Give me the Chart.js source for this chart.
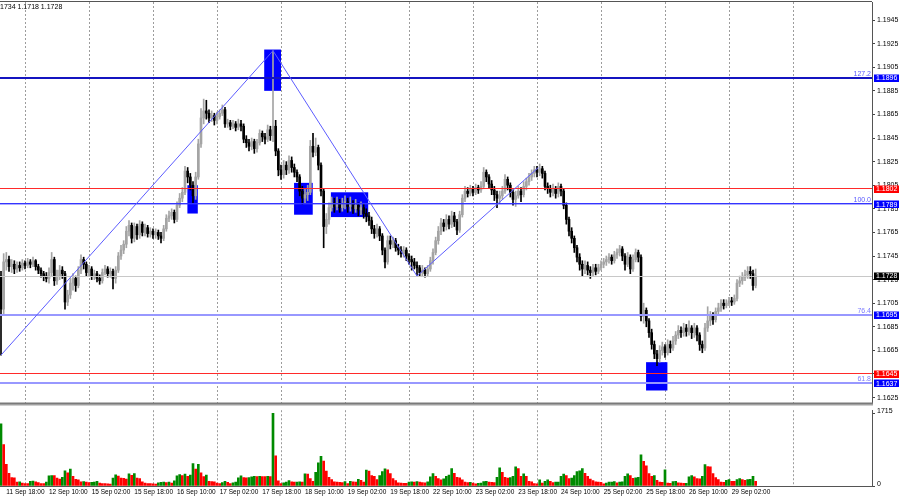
<!DOCTYPE html>
<html><head><meta charset="utf-8">
<script src="https://cdn.jsdelivr.net/npm/chart.js@4.4.1/dist/chart.umd.min.js"></script>
<style>
html,body{margin:0;padding:0;background:#fff;overflow:hidden}
#wrap{position:relative;width:900px;height:500px;background:#fff}
#cp{position:absolute;left:0;top:0}
#cv{position:absolute;left:0;top:404px}
</style></head><body>
<div id="wrap"><canvas id="cp" width="900" height="404"></canvas><canvas id="cv" width="900" height="96"></canvas></div>
<script>
// ---- EURUSD H1, bars indexed from 11 Sep 16:00 ----
const opens = [
1.1728,1.1700,1.1740,1.1742,1.1736,1.1738,1.1734,1.1737,1.1735,1.1739,
1.1737,1.1740,1.1738,1.1741,1.1736,1.1733,1.1730,1.1728,1.1726,1.1731,
1.1742,1.1724,1.1728,1.1733,1.1730,1.1706,1.1712,1.1722,1.1726,1.1720,
1.1733,1.1742,1.1738,1.1731,1.1734,1.1728,1.1730,1.1726,1.1724,1.1731,
1.1734,1.1730,1.1732,1.1726,1.1733,1.1745,1.1750,1.1755,1.1766,1.1771,
1.1760,1.1770,1.1763,1.1772,1.1765,1.1769,1.1764,1.1766,1.1763,1.1765,
1.1762,1.1760,1.1768,1.1777,1.1779,1.1782,1.1776,1.1788,1.1794,1.1799,
1.1817,1.1812,1.1805,1.1796,1.1812,1.1840,1.1862,1.1868,1.1866,1.1862,
1.1864,1.1860,1.1863,1.1866,1.1869,1.1857,1.1858,1.1855,1.1857,1.1854,
1.1857,1.1855,1.1844,1.1841,1.1838,1.1842,1.1836,1.1841,1.1849,1.1846,
1.1844,1.1852,1.1847,1.1855,1.1834,1.1818,1.1814,1.1822,1.1818,1.1826,
1.1820,1.1816,1.1812,1.1800,1.1794,1.1797,1.1799,1.1838,1.1833,1.1837,
1.1822,1.1800,1.1770,1.1776,1.1786,1.1790,1.1787,1.1790,1.1786,1.1789,
1.1791,1.1787,1.1789,1.1785,1.1788,1.1784,1.1786,1.1781,1.1779,1.1775,
1.1768,1.1764,1.1768,1.1762,1.1750,1.1740,1.1758,1.1755,1.1758,1.1752,
1.1750,1.1747,1.1750,1.1745,1.1742,1.1740,1.1737,1.1735,1.1731,1.1733,
1.1730,1.1734,1.1741,1.1748,1.1758,1.1766,1.1773,1.1770,1.1776,1.1772,
1.1779,1.1774,1.1767,1.1780,1.1794,1.1800,1.1798,1.1802,1.1799,1.1803,
1.1801,1.1804,1.1816,1.1812,1.1806,1.1801,1.1797,1.1794,1.1796,1.1800,
1.1810,1.1805,1.1799,1.1793,1.1796,1.1800,1.1797,1.1804,1.1808,1.1812,
1.1815,1.1818,1.1816,1.1819,1.1815,1.1804,1.1802,1.1799,1.1802,1.1798,
1.1804,1.1800,1.1788,1.1776,1.1766,1.1760,1.1752,1.1744,1.1738,1.1734,
1.1737,1.1733,1.1731,1.1735,1.1732,1.1735,1.1738,1.1740,1.1742,1.1744,
1.1741,1.1746,1.1748,1.1751,1.1745,1.1738,1.1744,1.1734,1.1742,1.1748,
1.1744,1.1694,1.1699,1.1690,1.1680,1.1670,1.1662,1.1658,1.1665,1.1668,
1.1663,1.1670,1.1667,1.1673,1.1678,1.1682,1.1680,1.1684,1.1681,1.1684,
1.1680,1.1684,1.1678,1.1670,1.1667,1.1684,1.1690,1.1694,1.1691,1.1698,
1.1701,1.1705,1.1703,1.1705,1.1707,1.1706,1.1709,1.1722,1.1724,1.1727,
1.1729,1.1732,1.1730,1.1720];
const highs = [
1.1732,1.1747,1.1748,1.1745,1.1742,1.1741,1.1740,1.1740,1.1742,1.1741,
1.1743,1.1742,1.1744,1.1742,1.1738,1.1735,1.1732,1.1731,1.1735,1.1748,
1.1744,1.1733,1.1737,1.1736,1.1732,1.1716,1.1726,1.1730,1.1728,1.1736,
1.1746,1.1744,1.1740,1.1737,1.1736,1.1733,1.1732,1.1729,1.1734,1.1737,
1.1736,1.1735,1.1734,1.1736,1.1748,1.1754,1.1758,1.1770,1.1775,1.1773,
1.1773,1.1772,1.1775,1.1774,1.1772,1.1771,1.1769,1.1768,1.1768,1.1767,
1.1765,1.1771,1.1780,1.1783,1.1785,1.1784,1.1791,1.1798,1.1803,1.1821,
1.1820,1.1815,1.1808,1.1816,1.1844,1.1870,1.1878,1.1877,1.1869,1.1868,
1.1866,1.1867,1.1869,1.1873,1.1871,1.1861,1.1860,1.1860,1.1859,1.1861,
1.1860,1.1857,1.1847,1.1844,1.1845,1.1844,1.1844,1.1852,1.1851,1.1849,
1.1856,1.1855,1.1919,1.1860,1.1836,1.1822,1.1826,1.1825,1.1830,1.1829,
1.1823,1.1818,1.1814,1.1804,1.1802,1.1805,1.1843,1.1849,1.1845,1.1839,
1.1824,1.1802,1.1781,1.1790,1.1795,1.1794,1.1795,1.1793,1.1794,1.1796,
1.1794,1.1795,1.1792,1.1793,1.1790,1.1791,1.1789,1.1785,1.1782,1.1778,
1.1771,1.1772,1.1770,1.1764,1.1752,1.1762,1.1762,1.1761,1.1760,1.1755,
1.1753,1.1753,1.1752,1.1747,1.1745,1.1743,1.1740,1.1737,1.1737,1.1735,
1.1737,1.1744,1.1751,1.1761,1.1770,1.1777,1.1776,1.1780,1.1779,1.1783,
1.1782,1.1776,1.1783,1.1797,1.1804,1.1803,1.1805,1.1804,1.1806,1.1805,
1.1808,1.1820,1.1818,1.1814,1.1809,1.1804,1.1800,1.1800,1.1804,1.1814,
1.1812,1.1807,1.1801,1.1800,1.1804,1.1803,1.1808,1.1811,1.1815,1.1818,
1.1821,1.1821,1.1823,1.1821,1.1817,1.1807,1.1805,1.1806,1.1804,1.1807,
1.1806,1.1802,1.1790,1.1778,1.1769,1.1762,1.1754,1.1747,1.1741,1.1741,
1.1740,1.1736,1.1738,1.1738,1.1738,1.1741,1.1743,1.1745,1.1747,1.1746,
1.1749,1.1751,1.1754,1.1753,1.1747,1.1748,1.1746,1.1746,1.1751,1.1750,
1.1746,1.1705,1.1701,1.1692,1.1683,1.1673,1.1665,1.1669,1.1672,1.1670,
1.1674,1.1673,1.1677,1.1681,1.1686,1.1685,1.1688,1.1687,1.1690,1.1686,
1.1688,1.1686,1.1680,1.1673,1.1688,1.1702,1.1698,1.1697,1.1701,1.1705,
1.1708,1.1708,1.1708,1.1710,1.1710,1.1712,1.1725,1.1728,1.1731,1.1733,
1.1736,1.1736,1.1733,1.1734];
const lows = [
1.1661,1.1696,1.1733,1.1732,1.1731,1.1730,1.1731,1.1732,1.1733,1.1734,
1.1735,1.1735,1.1736,1.1733,1.1730,1.1727,1.1724,1.1723,1.1722,1.1728,
1.1720,1.1721,1.1725,1.1726,1.1700,1.1703,1.1709,1.1716,1.1715,1.1718,
1.1730,1.1734,1.1728,1.1728,1.1725,1.1725,1.1723,1.1721,1.1722,1.1729,
1.1727,1.1727,1.1717,1.1722,1.1731,1.1742,1.1747,1.1752,1.1762,1.1756,
1.1757,1.1759,1.1760,1.1762,1.1762,1.1761,1.1761,1.1760,1.1760,1.1759,
1.1756,1.1758,1.1766,1.1774,1.1776,1.1773,1.1774,1.1786,1.1791,1.1797,
1.1807,1.1801,1.1790,1.1793,1.1810,1.1837,1.1857,1.1861,1.1858,1.1859,
1.1856,1.1857,1.1861,1.1864,1.1854,1.1854,1.1852,1.1853,1.1851,1.1852,
1.1851,1.1841,1.1837,1.1834,1.1835,1.1832,1.1833,1.1839,1.1842,1.1840,
1.1842,1.1843,1.1842,1.1830,1.1813,1.1810,1.1811,1.1814,1.1815,1.1816,
1.1812,1.1808,1.1796,1.1789,1.1790,1.1792,1.1797,1.1829,1.1830,1.1818,
1.1796,1.1752,1.1764,1.1772,1.1783,1.1782,1.1784,1.1782,1.1783,1.1785,
1.1782,1.1783,1.1781,1.1782,1.1779,1.1780,1.1777,1.1774,1.1771,1.1764,
1.1760,1.1761,1.1758,1.1746,1.1735,1.1738,1.1751,1.1752,1.1749,1.1746,
1.1744,1.1744,1.1741,1.1738,1.1733,1.1734,1.1728,1.1728,1.1728,1.1727,
1.1728,1.1732,1.1738,1.1746,1.1755,1.1763,1.1766,1.1767,1.1768,1.1769,
1.1770,1.1763,1.1765,1.1778,1.1791,1.1795,1.1796,1.1796,1.1797,1.1798,
1.1799,1.1802,1.1808,1.1802,1.1797,1.1792,1.1786,1.1790,1.1793,1.1798,
1.1801,1.1795,1.1788,1.1787,1.1794,1.1791,1.1795,1.1801,1.1805,1.1809,
1.1812,1.1812,1.1813,1.1811,1.1801,1.1798,1.1795,1.1796,1.1794,1.1795,
1.1796,1.1785,1.1772,1.1762,1.1756,1.1748,1.1740,1.1733,1.1728,1.1730,
1.1729,1.1726,1.1728,1.1729,1.1730,1.1733,1.1735,1.1737,1.1739,1.1738,
1.1739,1.1743,1.1745,1.1741,1.1733,1.1736,1.1730,1.1732,1.1740,1.1740,
1.1690,1.1688,1.1685,1.1676,1.1666,1.1658,1.1652,1.1655,1.1661,1.1659,
1.1661,1.1663,1.1665,1.1670,1.1675,1.1676,1.1677,1.1677,1.1678,1.1675,
1.1676,1.1673,1.1665,1.1663,1.1665,1.1681,1.1686,1.1687,1.1689,1.1695,
1.1698,1.1700,1.1701,1.1703,1.1703,1.1704,1.1707,1.1719,1.1721,1.1724,
1.1726,1.1726,1.1716,1.1718];
const closes = [
1.1700,1.1740,1.1742,1.1736,1.1738,1.1734,1.1737,1.1735,1.1739,1.1737,
1.1740,1.1738,1.1741,1.1736,1.1733,1.1730,1.1728,1.1726,1.1731,1.1742,
1.1724,1.1728,1.1733,1.1730,1.1706,1.1712,1.1722,1.1726,1.1720,1.1733,
1.1742,1.1738,1.1731,1.1734,1.1728,1.1730,1.1726,1.1724,1.1731,1.1734,
1.1730,1.1732,1.1726,1.1733,1.1745,1.1750,1.1755,1.1766,1.1771,1.1760,
1.1770,1.1763,1.1772,1.1765,1.1769,1.1764,1.1766,1.1763,1.1765,1.1762,
1.1760,1.1768,1.1777,1.1779,1.1782,1.1776,1.1788,1.1794,1.1799,1.1817,
1.1812,1.1805,1.1796,1.1812,1.1840,1.1862,1.1868,1.1866,1.1862,1.1864,
1.1860,1.1863,1.1866,1.1869,1.1857,1.1858,1.1855,1.1857,1.1854,1.1857,
1.1855,1.1844,1.1841,1.1838,1.1842,1.1836,1.1841,1.1849,1.1846,1.1844,
1.1852,1.1847,1.1855,1.1834,1.1818,1.1814,1.1822,1.1818,1.1826,1.1820,
1.1816,1.1812,1.1800,1.1794,1.1797,1.1799,1.1838,1.1833,1.1837,1.1822,
1.1800,1.1770,1.1776,1.1786,1.1790,1.1787,1.1790,1.1786,1.1789,1.1791,
1.1787,1.1789,1.1785,1.1788,1.1784,1.1786,1.1781,1.1779,1.1775,1.1768,
1.1764,1.1768,1.1762,1.1750,1.1740,1.1758,1.1755,1.1758,1.1752,1.1750,
1.1747,1.1750,1.1745,1.1742,1.1740,1.1737,1.1735,1.1731,1.1733,1.1730,
1.1734,1.1741,1.1748,1.1758,1.1766,1.1773,1.1770,1.1776,1.1772,1.1779,
1.1774,1.1767,1.1780,1.1794,1.1800,1.1798,1.1802,1.1799,1.1803,1.1801,
1.1804,1.1816,1.1812,1.1806,1.1801,1.1797,1.1794,1.1796,1.1800,1.1810,
1.1805,1.1799,1.1793,1.1796,1.1800,1.1797,1.1804,1.1808,1.1812,1.1815,
1.1818,1.1816,1.1819,1.1815,1.1804,1.1802,1.1799,1.1802,1.1798,1.1804,
1.1800,1.1788,1.1776,1.1766,1.1760,1.1752,1.1744,1.1738,1.1734,1.1737,
1.1733,1.1731,1.1735,1.1732,1.1735,1.1738,1.1740,1.1742,1.1744,1.1741,
1.1746,1.1748,1.1751,1.1745,1.1738,1.1744,1.1734,1.1742,1.1748,1.1744,
1.1694,1.1699,1.1690,1.1680,1.1670,1.1662,1.1658,1.1665,1.1668,1.1663,
1.1670,1.1667,1.1673,1.1678,1.1682,1.1680,1.1684,1.1681,1.1684,1.1680,
1.1684,1.1678,1.1670,1.1667,1.1684,1.1690,1.1694,1.1691,1.1698,1.1701,
1.1705,1.1703,1.1705,1.1707,1.1706,1.1709,1.1722,1.1724,1.1727,1.1729,
1.1732,1.1730,1.1720,1.1728];
const volumes = [
1470,980,510,300,200,190,90,100,70,60,
58,110,115,100,80,60,55,90,241,249,
245,188,165,203,361,309,399,226,158,143,
98,105,90,80,85,95,110,70,60,55,
50,45,188,263,233,188,180,165,286,250,
294,188,173,100,70,60,55,50,45,75,
85,90,80,95,70,120,240,270,245,280,
230,255,530,400,510,310,225,260,110,105,
100,70,60,80,110,85,60,75,95,190,
240,200,195,200,215,230,225,230,225,220,
230,225,1715,715,125,60,75,95,130,100,
90,95,100,95,290,280,173,113,324,550,
700,587,354,203,150,98,90,85,80,105,
60,113,98,90,158,135,90,376,354,248,
226,150,248,339,407,384,294,173,128,75,
68,66,64,90,98,90,105,95,80,75,
100,218,294,226,173,143,170,226,260,414,
301,203,195,143,90,83,88,70,53,65,
68,105,113,90,88,83,203,429,324,203,
188,200,226,452,414,226,286,226,113,98,
60,53,143,68,113,143,113,83,90,95,
226,279,248,173,188,248,339,361,414,301,
226,166,128,98,90,88,53,68,90,92,
105,75,95,100,226,286,248,181,195,203,
738,580,474,294,226,248,135,90,85,384,
68,65,105,108,75,68,65,66,218,248,
218,173,170,226,505,459,452,294,196,150,
90,88,135,150,113,110,150,173,150,135,
150,155,226,113];

// time-axis labels (bar index -> text)
const timeLabelIdx = [2,18,34,50,66,82,98,114,130,146,162,178,194,210,226,242,258,274];
const timeLabels = ['11 Sep 18:00','12 Sep 10:00','15 Sep 02:00','15 Sep 18:00','16 Sep 10:00','17 Sep 02:00','17 Sep 18:00','18 Sep 10:00','19 Sep 02:00','19 Sep 18:00','22 Sep 10:00','23 Sep 02:00','23 Sep 18:00','24 Sep 10:00','25 Sep 02:00','25 Sep 18:00','26 Sep 10:00','29 Sep 02:00'];
const gridIdx = [9,33,57,81,105,129,153,177,201,225,249,273,297];
const priceTicks = [1.1625,1.1645,1.1665,1.1685,1.1705,1.1725,1.1745,1.1765,1.1785,1.1805,1.1825,1.1845,1.1865,1.1885,1.1905,1.1925,1.1945];
const volumeTicks = [0,1715];

// horizontal levels
const levelPrices = [1.1896,1.1802,1.1789,1.1728,1.1695,1.1645,1.1637];
const levelFib    = ['127.2','','100.0','','76.4','','61.8'];
// zones (bar index from/to, price top/bottom)
const boxFrom   = [98.7,69.9,109.9,123.7,241.9];
const boxTo     = [105.0,73.8,116.9,137.7,249.9];
const boxTop    = [1.1920,1.1805,1.1807,1.1799,1.1655];
const boxBottom = [1.1885,1.1781,1.1780,1.1778,1.1631];
// zigzag swing points
const zigIdx   = [0,102,156,201.5];
const zigPrice = [1.1661,1.1919,1.1728,1.1820];

const ohlcText = '1734 1.1718 1.1728';

// ---- styling ----
const FONT = "'Liberation Sans Narrow','Liberation Sans',Arial,sans-serif";
const levelColor = ['#1414c0','#ff2a2a','#3434ff','#c8c8c8','#9898ff','#ff2a2a','#9898ff'];
const levelWidth = [2,1,1.4,1,2,1,2];
const tagColor   = ['#0000ff','#ff0000','#0000ff','#000000','#0000ff','#ff0000','#0000ff'];
const XMIN = -0.375, XMAX = 326.625;
const idx = closes.map((_, i) => i);
const isUp = idx.map(i => closes[i] >= opens[i]);
const BULL = '#a4a4a4', BEAR = '#000000';

function crisp(v){ return Math.round(v) + 0.5; }

const pricePlugin = {
  id: 'pricePane',
  beforeDatasetsDraw(chart){
    const {ctx, chartArea:a, scales:{x, y}} = chart;
    ctx.save();
    ctx.beginPath(); ctx.rect(a.left, a.top, a.right - a.left, a.bottom - a.top); ctx.clip();
    ctx.strokeStyle = '#9c9c9c'; ctx.lineWidth = 1; ctx.setLineDash([2, 2]);
    gridIdx.forEach(g => { const gx = crisp(x.getPixelForValue(g)); ctx.beginPath(); ctx.moveTo(gx, a.top); ctx.lineTo(gx, a.bottom); ctx.stroke(); });
    ctx.setLineDash([]);
    ctx.fillStyle = '#0000ff';
    for (let k = 0; k < boxFrom.length; k++){
      const x0 = x.getPixelForValue(boxFrom[k]), x1 = x.getPixelForValue(boxTo[k]);
      const y0 = y.getPixelForValue(boxTop[k]), y1 = y.getPixelForValue(boxBottom[k]);
      ctx.fillRect(x0, y0, x1 - x0, y1 - y0);
    }
    ctx.restore();
  },
  afterDatasetsDraw(chart){
    const {ctx, chartArea:a, scales:{x, y}} = chart;
    ctx.save();
    ctx.beginPath(); ctx.rect(a.left, a.top, a.right - a.left, a.bottom - a.top); ctx.clip();
    levelPrices.forEach((p, k) => {
      const w = levelWidth[k];
      const ly = Math.round(y.getPixelForValue(p) - w / 2);
      ctx.fillStyle = levelColor[k];
      ctx.fillRect(a.left, ly, a.right - a.left, w);
      if (levelFib[k]) {
        ctx.fillStyle = k === 0 || k === 2 ? '#5858ff' : '#7c7cff';
        ctx.font = '7px ' + FONT; ctx.textAlign = 'right'; ctx.textBaseline = 'alphabetic';
        ctx.fillText(levelFib[k], a.right - 1, ly - 1);
      }
    });
    ctx.strokeStyle = '#5c5cff'; ctx.lineWidth = 1;
    ctx.beginPath();
    zigIdx.forEach((v, k) => { const px = x.getPixelForValue(v), py = y.getPixelForValue(zigPrice[k]); k ? ctx.lineTo(px, py) : ctx.moveTo(px, py); });
    ctx.stroke();
    ctx.restore();
  },
  afterDraw(chart){
    const {ctx, chartArea:a, scales:{y}} = chart;
    ctx.save();
    ctx.fillStyle = '#555'; ctx.fillRect(0, 1, a.right, 1);
    ctx.fillStyle = '#7a7a7a'; ctx.fillRect(0, 402.5, a.right + 1, 1.5);
    ctx.font = '7px ' + FONT; ctx.textBaseline = 'middle'; ctx.textAlign = 'left';
    levelPrices.forEach((p, k) => {
      const ty = y.getPixelForValue(p);
      ctx.fillStyle = tagColor[k]; ctx.fillRect(a.right + 2, Math.round(ty) - 3.5, 25, 7.5);
      ctx.fillStyle = '#ffffff'; ctx.fillText(p.toFixed(4), a.right + 4, ty + 0.5);
    });
    ctx.fillStyle = '#000'; ctx.textBaseline = 'alphabetic';
    ctx.fillText(ohlcText, 0, 9);
    ctx.restore();
  }
};

new Chart(document.getElementById('cp'), {
  type: 'bar',
  data: { datasets: [
    { data: idx.map(i => ({x: i, y: [Math.min(opens[i], closes[i]), Math.max(opens[i], closes[i])]})),
      backgroundColor: idx.map(i => isUp[i] ? BULL : BEAR), barThickness: 2, minBarLength: 1, grouped: false, borderWidth: 0 },
    { data: idx.map(i => ({x: i, y: [lows[i], highs[i]]})),
      backgroundColor: idx.map(i => isUp[i] ? BULL : BEAR), barThickness: 1, grouped: false, borderWidth: 0 }
  ]},
  options: {
    responsive: false, animation: false, devicePixelRatio: 1,
    layout: { autoPadding: false, padding: { top: 2, bottom: 1, left: 0, right: 0 } },
    plugins: { legend: { display: false }, tooltip: { enabled: false } },
    scales: {
      x: { type: 'linear', min: XMIN, max: XMAX, offset: false, display: false },
      y: { position: 'right', min: 1.16204, max: 1.19603, beginAtZero: false,
           afterFit(s){ s.width = 28; s.paddingTop = 0; s.paddingBottom = 0; },
           afterBuildTicks(s){ s.ticks = priceTicks.map(v => ({value: v})); },
           ticks: { autoSkip: false, padding: 2, color: '#000', font: { family: FONT, size: 7 }, callback: v => Number(v).toFixed(4) },
           grid: { drawOnChartArea: false, drawTicks: true, tickLength: 3, color: '#444' },
           border: { display: true, color: '#555', width: 1 } }
    }
  },
  plugins: [pricePlugin]
});

const volPlugin = {
  id: 'volPane',
  beforeDatasetsDraw(chart){
    const {ctx, chartArea:a, scales:{x}} = chart;
    ctx.save();
    ctx.strokeStyle = '#9c9c9c'; ctx.lineWidth = 1; ctx.setLineDash([2, 2]);
    gridIdx.forEach(g => { const gx = crisp(x.getPixelForValue(g)); ctx.beginPath(); ctx.moveTo(gx, a.top); ctx.lineTo(gx, a.bottom); ctx.stroke(); });
    ctx.restore();
  },
  afterDraw(chart){
    const {ctx, chartArea:a} = chart;
    ctx.save();
    ctx.fillStyle = '#a0a0a0'; ctx.fillRect(0, 0, a.right + 1, 1.5);
    ctx.restore();
  }
};

new Chart(document.getElementById('cv'), {
  type: 'bar',
  data: { datasets: [
    { data: idx.map(i => ({x: i, y: volumes[i]})),
      backgroundColor: idx.map(i => (i === 0 || volumes[i] > volumes[i - 1]) ? '#008a00' : '#ff0000'),
      barThickness: 2, borderWidth: 0 }
  ]},
  options: {
    responsive: false, animation: false, devicePixelRatio: 1,
    layout: { autoPadding: false, padding: { top: 2, bottom: 0, left: 0, right: 0 } },
    plugins: { legend: { display: false }, tooltip: { enabled: false } },
    scales: {
      x: { type: 'linear', min: XMIN, max: XMAX, offset: false, position: 'bottom',
           afterFit(s){ s.height = 14; },
           afterBuildTicks(s){ s.ticks = timeLabelIdx.map(v => ({value: v})); },
           ticks: { autoSkip: false, maxRotation: 0, align: 'start', padding: 2, color: '#000',
                    font: { family: FONT, size: 6.5 }, callback: v => timeLabels[timeLabelIdx.indexOf(v)] },
           grid: { display: false, drawTicks: false },
           border: { display: true, color: '#555', width: 1 } },
      y: { position: 'right', min: 0, max: 1790,
           afterFit(s){ s.width = 28; },
           afterBuildTicks(s){ s.ticks = volumeTicks.map(v => ({value: v})); },
           ticks: { autoSkip: false, padding: 2, labelOffset: -2, color: '#000', font: { family: FONT, size: 7 }, callback: v => String(v) },
           grid: { drawOnChartArea: false, drawTicks: true, tickLength: 3, color: '#444' },
           border: { display: true, color: '#555', width: 1 } }
    }
  },
  plugins: [volPlugin]
});
</script>
</body></html>
